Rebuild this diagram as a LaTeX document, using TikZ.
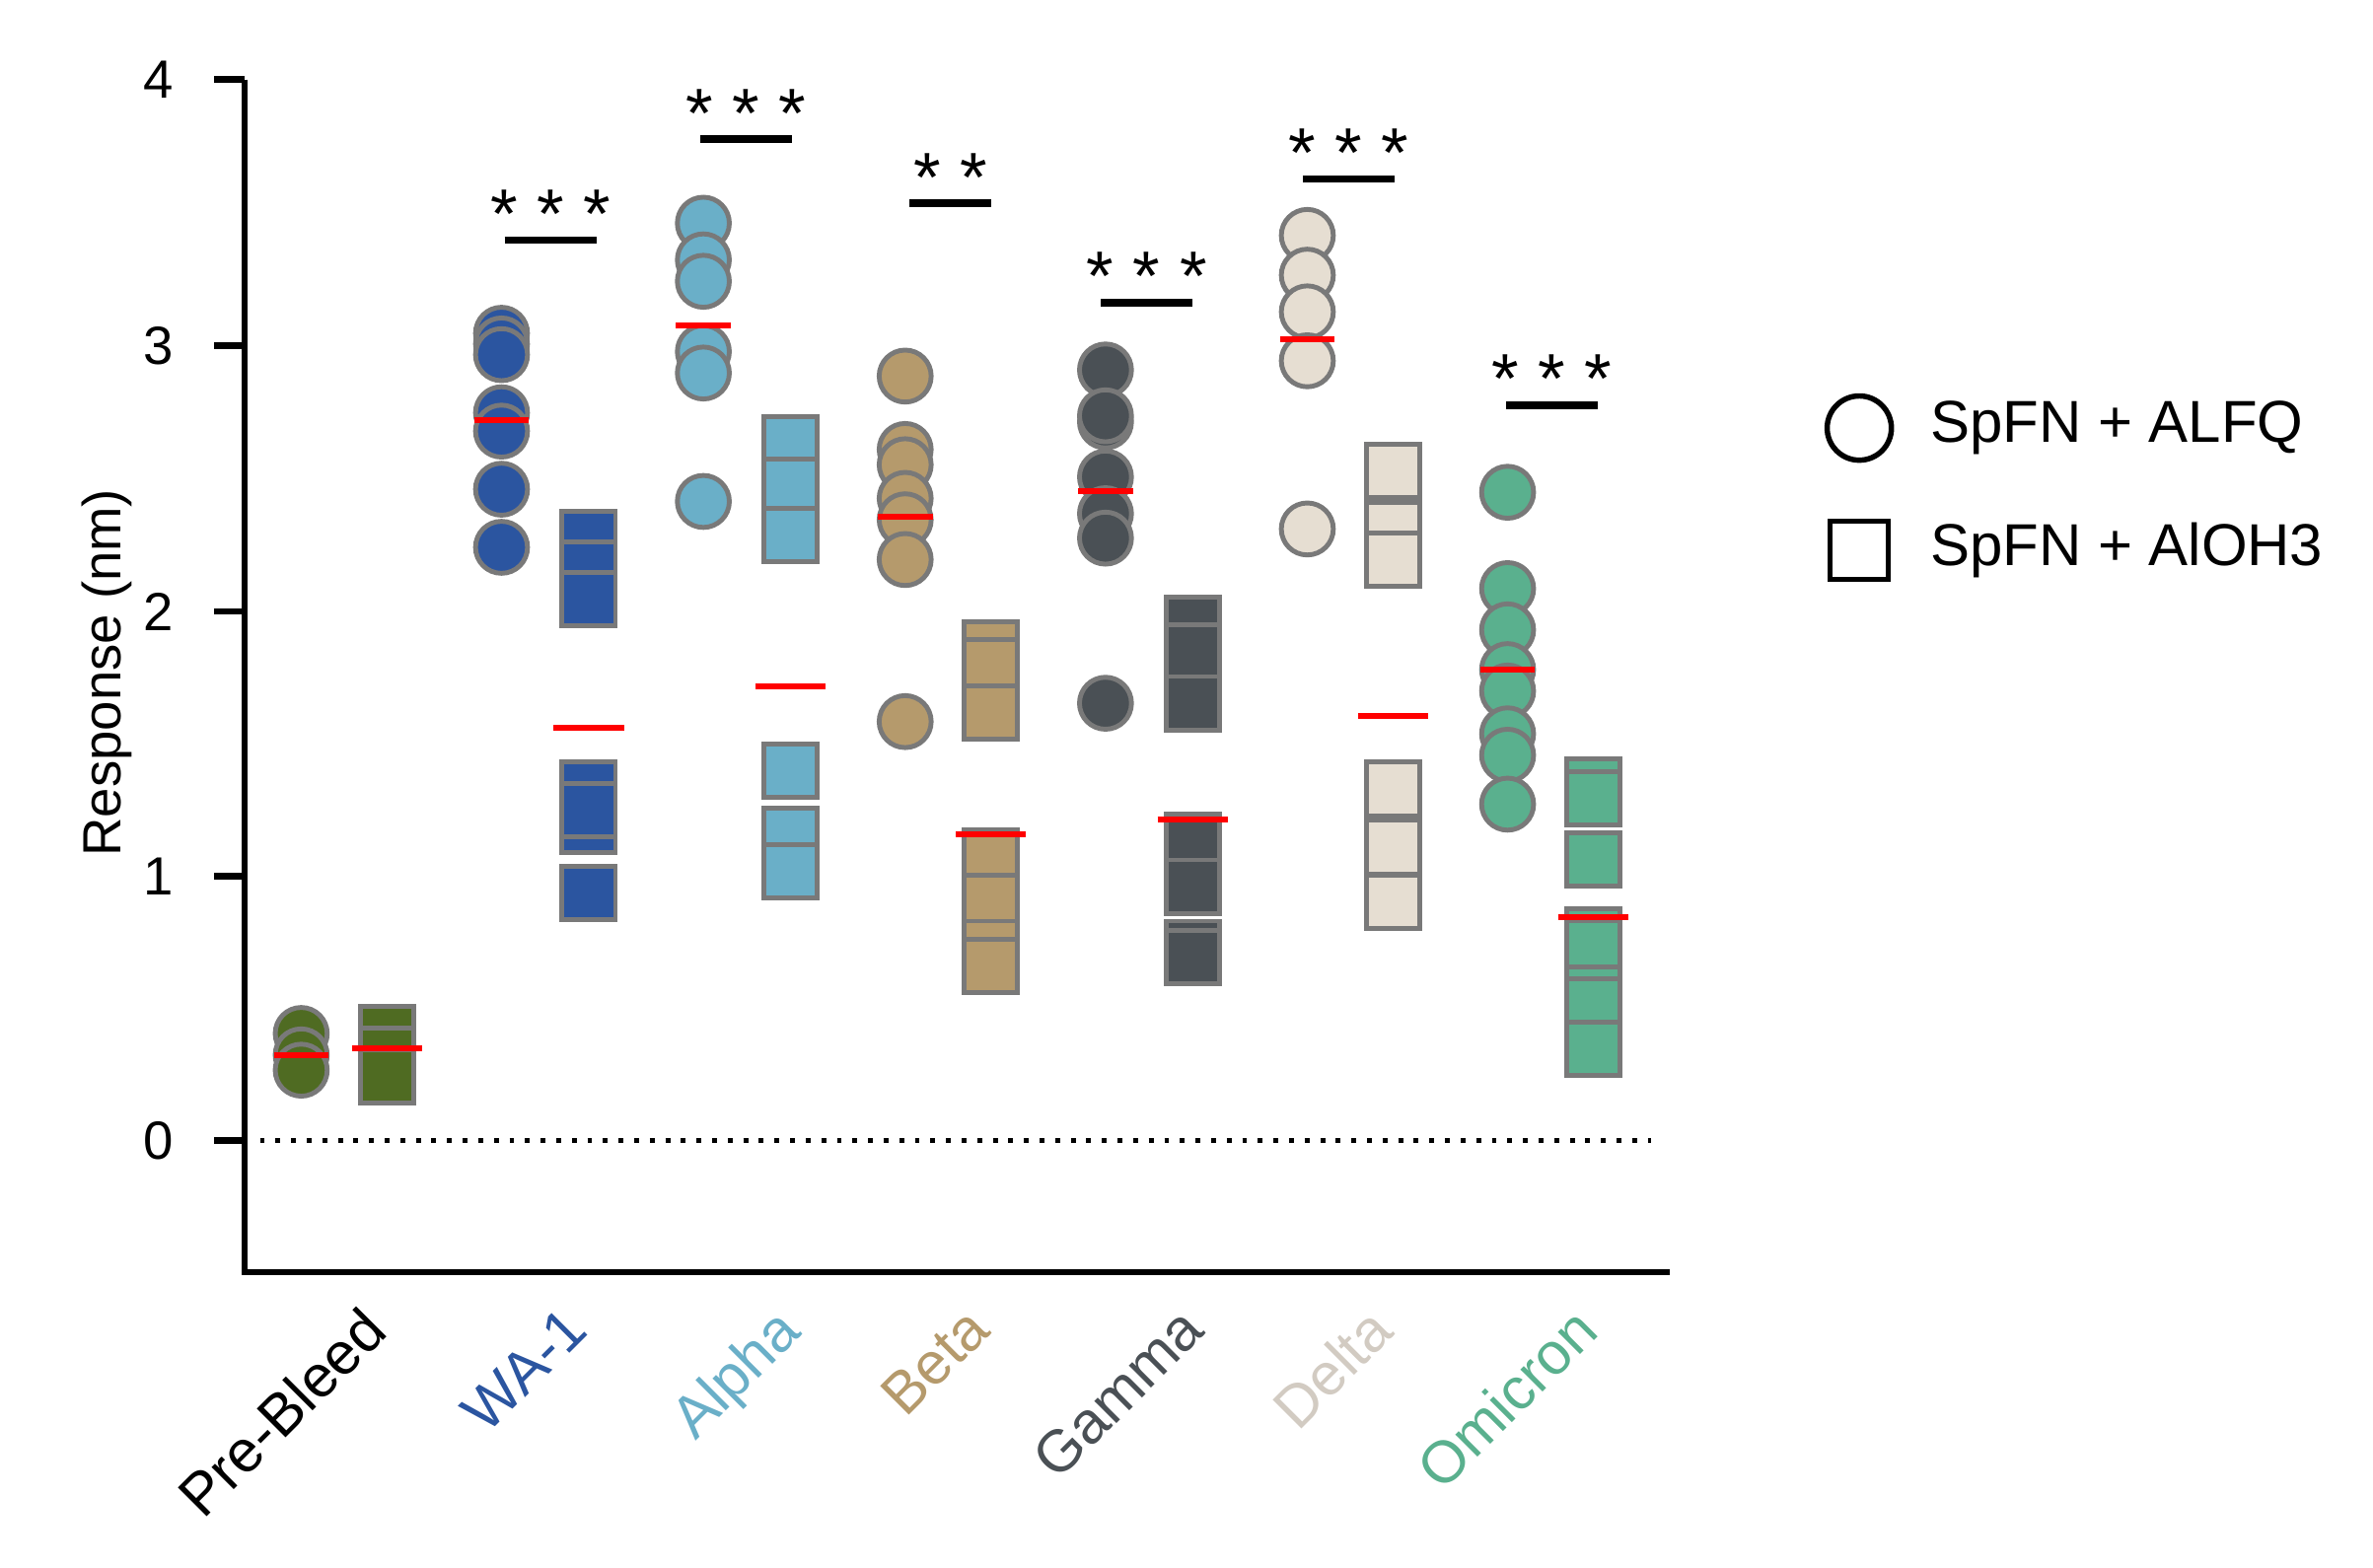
\documentclass[tikz,border=0pt]{standalone}
\usepackage{fontspec}
\setmainfont{Liberation Sans}
\begin{document}
\begin{tikzpicture}[x=0.01cm,y=-0.01cm,
 circ/.style={circle,draw=gray!95!black,line width=0.9pt,minimum size=0.34cm,inner sep=0pt},
 sq/.style={rectangle,draw=gray!95!black,line width=0.9pt,minimum size=0.35cm,inner sep=0pt},
 mean/.style={red,line width=1.1pt},
 sig/.style={line width=1.4pt},
 lab/.style={font=\fontsize{10}{11}\selectfont},
 xlab/.style={font=\fontsize{11}{12}\selectfont}]
\useasboundingbox (0,0) rectangle (1552,1025);
\definecolor{cP}{HTML}{4F6B22}\definecolor{cW}{HTML}{2B55A0}\definecolor{cA}{HTML}{6AAFC8}
\definecolor{cB}{HTML}{B59A6C}\definecolor{cG}{HTML}{4A5055}\definecolor{cD}{HTML}{E6DED2}
\definecolor{cO}{HTML}{5AB08E}
% axes
\draw[line width=1.2pt] (160,52) -- (160,832) -- (1092,832);
\foreach \y/\t in {52/4,226/3,400/2,573/1,746/0}{
 \draw[line width=1.2pt] (140,\y) -- (160,\y);
 \node[lab,anchor=east] (t\t) at (126,\y) {\t};}
\draw[dotted,line width=0.9pt] (170,746) -- (1080,746);
\node[lab,rotate=90] (ylab) at (70,440) {Response (nm)};
% data
\foreach \cx/\col/\pts/\m in {197/cP/{676,690,700}/690, 328/cW/{218,225,232,270,282,320,358}/275,
 460/cA/{146,170,184,230,244,328}/213, 592/cB/{246,294,304,326,340,366,472}/338,
 723/cG/{242,276,272,312,336,352,460}/321, 855/cD/{154,180,204,236,346}/222,
 986/cO/{322,385,412,438,452,480,494,526}/438}{
 \foreach \p in \pts {\node[circ,fill=\col] at (\cx,\p) {};}
 \draw[mean] (\cx-18,\m) -- (\cx+18,\m);}
\foreach \cx/\col/\pts/\m in {253/cP/{676,690,704}/686, 385/cW/{352,372,392,516,540,584,530}/476,
 517/cA/{290,318,350,504,546,570}/449, 648/cB/{424,436,466,560,590,620,632}/546,
 780/cG/{408,426,460,550,580,620,626}/536, 911/cD/{308,346,366,516,554,590}/468,
 1042/cO/{514,522,562,612,620,650,658,686}/600}{
 \foreach \p in \pts {\node[sq,fill=\col] at (\cx,\p) {};}
 \draw[mean] (\cx-23,\m) -- (\cx+23,\m);}
% significance
\foreach \a/\b/\y/\s in {330/390/157/{* * *},458/518/91/{* * *},595/648/133/{* *},720/780/198/{* * *},852/912/117/{* * *},985/1045/265/{* * *}}{
 \draw[sig] (\a,\y) -- (\b,\y);
 \node[font=\fontsize{13}{13}\selectfont] at ({(\a+\b)/2},\y-17) {\s};}
% x labels
\foreach \x/\t/\col in {235/Pre-Bleed/black,367/WA-1/cW,505/Alpha/cA,630/Beta/cB,770/Gamma/cG,893/Delta/cD!80!gray,1027/Omicron/cO}{
 \node[xlab,anchor=north east,rotate=45,text=\col,inner sep=0pt] at (\x,852) {\t};}
% legend
\node[circle,draw,line width=1pt,minimum size=0.42cm,inner sep=0pt] (lc) at (1216,280) {};
\node[font=\fontsize{11}{12}\selectfont,anchor=west] (lt1) at (1250,280) {SpFN + ALFQ};
\node[rectangle,draw,line width=1pt,minimum size=0.38cm,inner sep=0pt] (ls) at (1216,360) {};
\node[font=\fontsize{11}{12}\selectfont,anchor=west] (lt2) at (1250,360) {SpFN + AlOH3};
\end{tikzpicture}
\end{document}
